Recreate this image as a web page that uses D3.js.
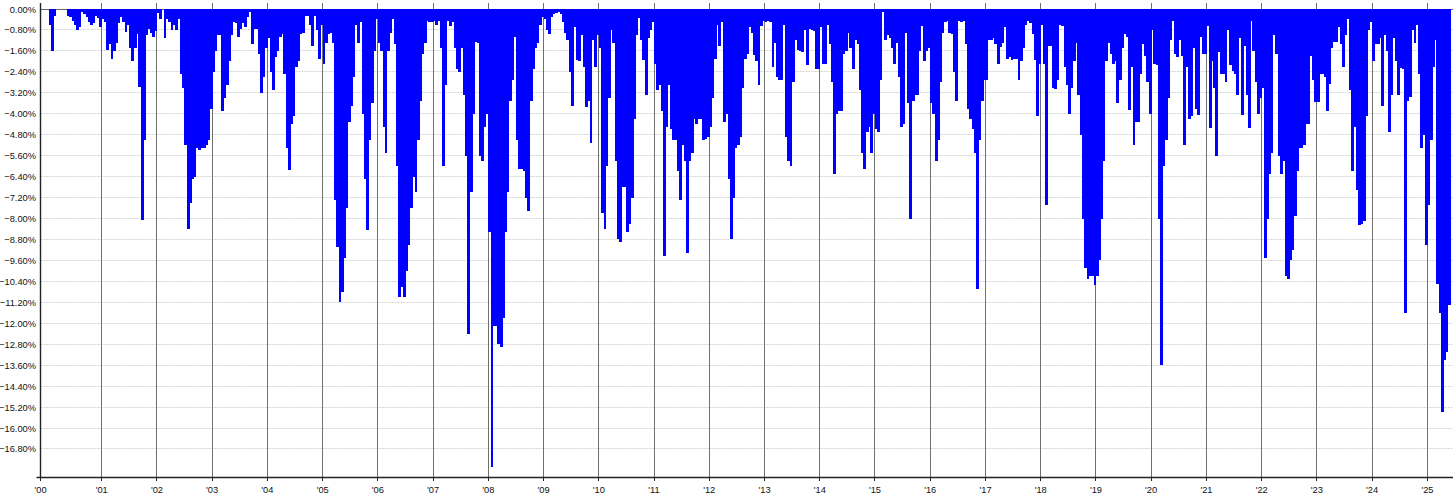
<!DOCTYPE html>
<html><head><meta charset="utf-8">
<script src="https://cdn.jsdelivr.net/npm/d3@7/dist/d3.min.js"></script>
<style>
body{margin:0;background:#fff;}
svg text{font-family:"Liberation Sans",Arial,sans-serif;font-size:9.3px;fill:#111;}
</style>
</head><body>
<svg id="chart" width="1456" height="499"></svg>
<script>
// Drawdown (%) — 24 half-month readings per year (1st and 16th of each month)
const y2000 = [0, -0.6, -1.6, -0.25, 0, 0, 0, 0, 0, -0.25, -0.3, -0.45, -0.6, -0.8, -0.7, -0.1, -0.2, -0.3, -0.5, -0.6, -0.55, -0.25, -0.35, -0.7];
const y2001 = [-0.4, -0.5, -1.55, -1.35, -1.9, -1.6, -1.3, -0.55, -0.3, -0.5, -0.87, -0.6, -1.5, -2.0, -1.5, -0.95, -2.97, -8.05, -5.0, -1.0, -0.75, -0.9, -1.05, -0.85];
const y2002 = [-0.15, -0.4, 0, -1.1, -0.4, -0.5, -0.8, -0.6, -0.8, -0.4, -2.5, -3.0, -5.2, -8.4, -7.4, -6.5, -6.4, -5.3, -5.4, -5.3, -5.3, -5.2, -5.0, -3.8];
const y2003 = [-2.4, -1.6, -1.0, -1.0, -3.9, -3.4, -2.9, -2.0, -1.0, -0.5, -0.55, -1.05, -0.75, -0.55, -0.7, -0.3, -0.1, -1.35, -0.75, -0.75, -1.7, -3.2, -2.6, -1.5];
const y2004 = [-1.1, -2.4, -3.1, -1.85, -1.6, -1.05, -0.95, -2.5, -5.3, -6.15, -4.4, -4.1, -2.2, -2.0, -0.95, -0.9, -0.25, -0.25, -0.6, -1.4, -0.25, -0.8, -1.9, -0.6];
const y2005 = [-2.1, -1.3, -0.95, -0.9, -1.3, -7.3, -9.1, -11.2, -10.8, -9.5, -7.6, -4.3, -3.7, -2.6, -0.6, -1.3, -0.5, -4.0, -6.5, -8.45, -5.0, -3.6, -1.6, -0.4];
const y2006 = [-1.3, -1.6, -4.5, -5.5, -1.6, -0.9, -0.4, -1.35, -6.0, -11.0, -10.6, -11.0, -10.0, -9.0, -7.6, -6.4, -7.0, -5.0, -3.5, -1.7, -1.3, -0.45, -0.5, -0.5];
const y2007 = [-0.45, -0.6, -0.45, -1.5, -6.0, -2.9, -0.45, -0.65, -0.5, -1.5, -2.3, -2.4, -1.5, -3.3, -5.6, -12.4, -7.0, -4.0, -1.25, -1.3, -5.6, -5.8, -4.5, -4.0];
const y2008 = [-8.5, -17.5, -12.1, -12.1, -12.8, -12.9, -11.8, -8.5, -7.0, -3.5, -2.7, -1.05, -5.0, -6.1, -6.1, -6.2, -7.2, -7.7, -3.5, -2.3, -1.5, -1.3, -0.6, -0.3];
const y2009 = [-0.4, -0.8, -0.95, -0.3, -0.2, -0.15, -0.1, -0.2, -0.5, -0.9, -1.2, -2.4, -3.7, -0.7, -1.95, -2.0, -1.0, -2.2, -3.75, -3.5, -5.1, -1.2, -2.2, -1.0];
const y2010 = [-1.5, -7.8, -8.4, -6.0, -3.4, -0.8, -1.3, -5.8, -8.8, -8.9, -6.8, -6.8, -8.5, -8.2, -7.2, -4.2, -1.0, -0.35, -1.2, -1.95, -3.3, -1.1, -0.8, -0.5];
const y2011 = [-2.1, -3.1, -2.9, -3.9, -9.45, -4.5, -2.9, -4.6, -5.0, -5.0, -6.2, -7.3, -5.2, -5.8, -9.3, -5.8, -5.5, -4.2, -4.4, -4.2, -4.2, -5.0, -4.95, -4.9];
const y2012 = [-4.5, -3.4, -1.9, -0.6, -1.4, -0.5, -4.3, -4.0, -6.5, -8.8, -7.2, -5.3, -5.2, -4.9, -3.0, -1.9, -1.7, -0.7, -0.9, -1.75, -2.0, -2.9, -0.65, -0.45];
const y2013 = [-0.5, -0.45, -0.5, -2.2, -1.3, -2.6, -2.7, -2.7, -0.6, -4.9, -5.8, -6.0, -2.8, -1.2, -1.55, -1.6, -1.65, -0.8, -2.15, -0.75, -0.8, -0.85, -2.3, -2.3];
const y2014 = [-0.7, -2.1, -2.1, -0.6, -1.35, -2.8, -6.3, -4.0, -3.9, -3.9, -1.7, -1.6, -0.9, -1.5, -2.3, -1.2, -1.35, -3.1, -5.5, -6.1, -4.7, -4.5, -5.5, -4.0];
const y2015 = [-4.6, -4.7, -2.7, -0.1, -1.2, -1.0, -1.1, -1.5, -2.1, -1.3, -2.6, -4.5, -4.4, -0.9, -3.6, -8.0, -3.5, -3.3, -3.3, -1.6, -0.65, -2.0, -1.6, -1.5];
const y2016 = [-3.6, -4.0, -5.8, -5.0, -2.8, -0.9, -0.5, -0.45, -0.9, -0.95, -2.4, -3.5, -0.45, -0.5, -0.45, -1.35, -3.8, -4.2, -4.6, -5.5, -10.7, -5.0, -3.5, -2.7];
const y2017 = [-2.7, -1.2, -1.2, -1.1, -1.35, -2.1, -1.45, -1.3, -0.7, -1.9, -1.85, -1.95, -1.9, -1.9, -2.7, -2.0, -1.5, -0.6, -0.45, -0.55, -0.95, -1.95, -4.1, -2.1];
const y2018 = [-0.6, -2.1, -7.5, -1.4, -1.4, -3.0, -3.05, -2.7, -0.6, -0.65, -2.2, -2.9, -4.0, -3.0, -2.0, -1.3, -3.3, -4.8, -8.0, -9.9, -10.3, -10.2, -10.2, -10.55];
const y2019 = [-10.2, -9.6, -8.0, -5.8, -2.0, -1.3, -1.7, -2.1, -2.0, -3.6, -2.7, -1.5, -0.95, -1.05, -3.85, -2.2, -5.2, -4.3, -4.3, -2.5, -1.35, -1.8, -2.8, -4.0];
const y2020 = [-0.8, -2.1, -2.15, -8.0, -13.6, -6.0, -5.0, -3.4, -1.2, -0.45, -1.7, -1.85, -1.2, -1.8, -5.2, -2.2, -4.2, -4.1, -1.5, -3.8, -4.05, -1.05, -1.7, -1.7];
const y2021 = [-0.65, -4.55, -2.0, -3.0, -5.6, -1.65, -2.5, -2.5, -2.8, -0.8, -2.15, -2.35, -2.5, -3.3, -1.1, -4.05, -1.4, -3.3, -4.55, -0.45, -1.6, -2.8, -4.0, -3.4];
const y2022 = [-3.0, -9.5, -8.0, -6.3, -5.5, -1.0, -1.7, -5.6, -6.3, -5.8, -10.2, -10.3, -9.6, -9.2, -7.9, -6.2, -5.3, -5.3, -5.2, -4.4, -4.4, -1.8, -2.7, -3.55];
const y2023 = [-3.55, -2.5, -2.5, -2.6, -3.9, -2.85, -1.5, -1.25, -1.25, -0.7, -1.35, -2.2, -1.0, -0.4, -3.1, -6.2, -4.5, -6.9, -8.25, -8.2, -8.1, -4.1, -0.8, -0.5];
const y2024 = [-2.0, -1.35, -1.35, -1.1, -3.7, -1.0, -1.6, -4.7, -3.3, -1.1, -2.0, -3.3, -2.25, -2.3, -11.6, -3.5, -3.35, -0.8, -1.3, -0.6, -2.5, -5.3, -4.8, -9.0];
const y2025 = [-7.5, -5.0, -2.2, -1.2, -10.5, -11.6, -15.4, -13.4, -13.1, -11.3];

const years = [2000, 2001, 2002, 2003, 2004, 2005, 2006, 2007, 2008, 2009, 2010, 2011, 2012,
               2013, 2014, 2015, 2016, 2017, 2018, 2019, 2020, 2021, 2022, 2023, 2024, 2025];
const seriesByYear = [y2000, y2001, y2002, y2003, y2004, y2005, y2006, y2007, y2008, y2009, y2010,
  y2011, y2012, y2013, y2014, y2015, y2016, y2017, y2018, y2019, y2020, y2021, y2022, y2023, y2024, y2025];

const xTickLabels = ["'00","'01","'02","'03","'04","'05","'06","'07","'08","'09","'10","'11","'12",
                     "'13","'14","'15","'16","'17","'18","'19","'20","'21","'22","'23","'24","'25"];
const yTicks = [0, -0.8, -1.6, -2.4, -3.2, -4.0, -4.8, -5.6, -6.4, -7.2, -8.0, -8.8, -9.6, -10.4,
                -11.2, -12.0, -12.8, -13.6, -14.4, -15.2, -16.0, -16.8];
const yDomain = [-17.87, 0.23];
const xStart = new Date(1999, 10, 23), xEnd = new Date(2025, 5, 19);

// ---- layout ----
const W = 1456, H = 499;
const m = {left: 40.5, right: 3, top: 3, bottom: 22};
const svg = d3.select("#chart");

const x = d3.scaleTime().domain([xStart, xEnd]).range([m.left, W - m.right]);
const y = d3.scaleLinear().domain(yDomain).range([H - m.bottom, m.top]);

const bars = [];
years.forEach((yr, i) => {
  seriesByYear[i].forEach((v, k) => {
    const mo = Math.floor(k / 2);
    const d0 = new Date(yr, mo, k % 2 ? 16 : 1);
    const d1 = k % 2 ? new Date(yr, mo + 1, 1) : new Date(yr, mo, 16);
    bars.push({d0, d1, v});
  });
});

const tickDates = [xStart].concat(years.slice(1).map(yr => new Date(yr, 0, 1)));
const snap = v => Math.round(v) + 0.5;

// horizontal gridlines
svg.append("g").selectAll("line").data(yTicks).join("line")
  .attr("x1", m.left).attr("x2", W - m.right)
  .attr("y1", d => snap(y(d) - 0.5)).attr("y2", d => snap(y(d) - 0.5))
  .attr("stroke", d => d === 0 ? "#666" : "#d4d4d4")
  .attr("stroke-dasharray", d => d === 0 ? null : "2,1")
  .attr("stroke-width", 1);

// vertical year gridlines
svg.append("g").selectAll("line").data(tickDates.slice(1)).join("line")
  .attr("x1", d => snap(x(d) - 0.5)).attr("x2", d => snap(x(d) - 0.5))
  .attr("y1", m.top).attr("y2", H - m.bottom)
  .attr("stroke", "#707070").attr("stroke-width", 1);

// bars
svg.append("g").selectAll("rect").data(bars.filter(b => b.v < 0)).join("rect")
  .attr("x", d => x(d.d0))
  .attr("width", d => x(d.d1) - x(d.d0) + 0.5)
  .attr("y", y(0))
  .attr("height", d => y(d.v) - y(0))
  .attr("fill", "#0000ff")
  .attr("shape-rendering", "crispEdges");

// axes lines
svg.append("line").attr("x1", m.left).attr("x2", m.left)
  .attr("y1", m.top).attr("y2", H - m.bottom + 1)
  .attr("stroke", "#222").attr("stroke-width", 1.4);
svg.append("line").attr("x1", m.left - 4).attr("x2", W - m.right)
  .attr("y1", H - m.bottom + 0.5).attr("y2", H - m.bottom + 0.5)
  .attr("stroke", "#222").attr("stroke-width", 1.4);

// x ticks & labels
const xg = svg.append("g");
xg.selectAll("line").data(tickDates).join("line")
  .attr("x1", d => snap(x(d) - 0.5)).attr("x2", d => snap(x(d) - 0.5))
  .attr("y1", H - m.bottom).attr("y2", H - m.bottom + 4)
  .attr("stroke", "#222");
xg.selectAll("text").data(tickDates).join("text")
  .attr("x", d => x(d)).attr("y", H - m.bottom + 16)
  .attr("text-anchor", "middle")
  .text((d, i) => xTickLabels[i]);

// y labels
svg.append("g").selectAll("text").data(yTicks).join("text")
  .attr("x", m.left - 4.5).attr("y", d => y(d) + 3.5)
  .attr("text-anchor", "end")
  .text(d => d3.format(".2f")(d) + "%");
</script>
</body></html>
